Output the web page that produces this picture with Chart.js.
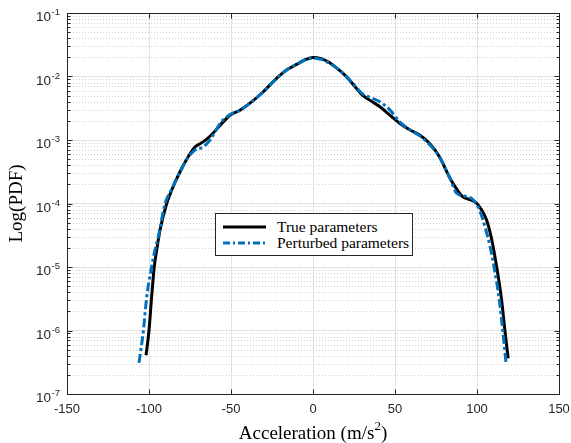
<!DOCTYPE html>
<html lang="en">
<head>
<meta charset="UTF-8" />
<title>Log(PDF) of acceleration</title>
<script src="https://cdn.jsdelivr.net/npm/chart.js"></script>
<style>
  html, body { margin: 0; padding: 0; background: #fff; }
  #wrap { position: relative; width: 571px; height: 443px; }
  #legend {
    position: absolute; left: 215px; top: 213px; width: 196px; height: 41px;
    border: 1px solid #262626; background: #fff;
    font-family: "Liberation Serif", "Times New Roman", serif; font-size: 15.5px; color: #000;
  }
  .row { position: absolute; left: 0; height: 16px; line-height: 16px; }
  .row svg { position: absolute; left: 7px; top: 6px; }
  .row span { position: absolute; left: 61px; top: 0; white-space: nowrap; }
</style>
</head>
<body>
<div id="wrap">
  <canvas id="pdfChart" width="571" height="443"></canvas>
  <div id="legend">
    <div class="row" style="top:5px">
      <svg width="44" height="4"><line x1="0" y1="2" x2="43" y2="2" stroke="#000" stroke-width="3" /></svg>
      <span>True parameters</span>
    </div>
    <div class="row" style="top:21px">
      <svg width="44" height="4"><line x1="0" y1="2" x2="43" y2="2" stroke="#0072BD" stroke-width="3" stroke-dasharray="7 3 2 3" /></svg>
      <span>Perturbed parameters</span>
    </div>
  </div>
</div>

<script>
  // values (PDF, log y axis)
  const trueX = [-101.8, -100, -98.4, -96.8, -95.3, -93.3, -89.2, -86.2, -81.1, -76, -72, -67, -62, -56, -50.6, -44.5, -38.4, -30.3, -25, -20, -15, -10, -5, 0, 5, 10, 15, 20, 25, 30, 35, 41, 47, 53, 59, 65, 71, 77, 83.5, 87, 91, 95.7, 99, 102, 106, 109, 112, 115, 117, 119];
  const trueY = [4.07e-7, 1e-6, 3.39e-6, 1e-5, 1.86e-5, 3.8e-5, 1e-4, 1.62e-4, 3.16e-4, 5.5e-4, 7.76e-4, 9.33e-4, 1.2e-3, 1.78e-3, 2.45e-3, 2.95e-3, 3.8e-3, 5.75e-3, 7.94e-3, 1.05e-2, 1.32e-2, 1.55e-2, 1.82e-2, 2.0e-2, 1.91e-2, 1.66e-2, 1.32e-2, 1.02e-2, 7.24e-3, 5.13e-3, 4.17e-3, 3.31e-3, 2.45e-3, 1.82e-3, 1.45e-3, 1.2e-3, 8.91e-4, 5.5e-4, 2.51e-4, 1.78e-4, 1.29e-4, 1.15e-4, 1.05e-4, 8.51e-5, 5.37e-5, 2.69e-5, 1e-5, 3.02e-6, 1e-6, 3.63e-7];

  const pertX = [-106.1, -103.4, -101.4, -98.4, -96.5, -94.3, -90.2, -86.5, -81.1, -76, -72, -67, -62.8, -56, -50.6, -44.5, -38.4, -30.3, -25, -20, -15, -10, -5, 0, 5, 10, 15, 20, 25, 30, 35, 41, 47, 53, 59, 65, 71, 77, 83.5, 87.6, 93.7, 97.6, 101.8, 104.9, 108, 110.4, 113.6, 115.7, 117.7];
  const pertY = [3.09e-7, 1e-6, 3.39e-6, 1e-5, 1.78e-5, 3.02e-5, 1e-4, 1.62e-4, 3.16e-4, 5.37e-4, 6.92e-4, 7.76e-4, 1e-3, 1.91e-3, 2.51e-3, 2.95e-3, 3.8e-3, 5.75e-3, 7.94e-3, 1.05e-2, 1.32e-2, 1.55e-2, 1.82e-2, 1.95e-2, 1.86e-2, 1.62e-2, 1.32e-2, 1.02e-2, 7.41e-3, 5.37e-3, 4.68e-3, 3.98e-3, 2.95e-3, 1.91e-3, 1.45e-3, 1.17e-3, 8.51e-4, 5.5e-4, 2.51e-4, 1.45e-4, 1.29e-4, 1.15e-4, 7.59e-5, 4.27e-5, 2.09e-5, 1e-5, 3.02e-6, 1e-6, 3.09e-7];

  const xTicks = [-150, -100, -50, 0, 50, 100, 150];
  const yExponents = [-7, -6, -5, -4, -3, -2, -1];

  const axisColor = "#262626";

  function toPoints(xs, ys) {
    return xs.map((x, i) => ({ x: x, y: ys[i] }));
  }

  // minor grid, box, inward ticks and tick labels, MATLAB style
  const axesPlugin = {
    id: "axesPlugin",
    beforeDatasetsDraw(chart) {
      const ctx = chart.ctx;
      const area = chart.chartArea;
      const ys = chart.scales.y;
      ctx.save();
      ctx.strokeStyle = "#cfcfcf";
      ctx.lineWidth = 1;
      ctx.setLineDash([1, 2]);
      yExponents.forEach((e) => {
        if (e === -1) return;
        for (let m = 2; m <= 9; m++) {
          const py = Math.round(ys.getPixelForValue(m * Math.pow(10, e))) + 0.5;
          ctx.beginPath();
          ctx.moveTo(area.left, py);
          ctx.lineTo(area.right, py);
          ctx.stroke();
        }
      });
      ctx.restore();
    },
    afterDraw(chart) {
      const ctx = chart.ctx;
      const area = chart.chartArea;
      const xs = chart.scales.x;
      const ys = chart.scales.y;
      const l = Math.round(area.left) + 0.5;
      const r = Math.round(area.right) + 0.5;
      const t = Math.round(area.top) + 0.5;
      const b = Math.round(area.bottom) + 0.5;
      ctx.save();
      ctx.strokeStyle = axisColor;
      ctx.lineWidth = 1;
      ctx.strokeRect(l, t, r - l, b - t);

      // ticks
      ctx.beginPath();
      xTicks.forEach((v) => {
        const px = Math.round(xs.getPixelForValue(v)) + 0.5;
        ctx.moveTo(px, b); ctx.lineTo(px, b - 5);
        ctx.moveTo(px, t); ctx.lineTo(px, t + 5);
      });
      yExponents.forEach((e) => {
        const py = Math.round(ys.getPixelForValue(Math.pow(10, e))) + 0.5;
        ctx.moveTo(l, py); ctx.lineTo(l + 5, py);
        ctx.moveTo(r, py); ctx.lineTo(r - 5, py);
        if (e === -1) return;
        for (let m = 2; m <= 9; m++) {
          const my = Math.round(ys.getPixelForValue(m * Math.pow(10, e))) + 0.5;
          ctx.moveTo(l, my); ctx.lineTo(l + 3, my);
          ctx.moveTo(r, my); ctx.lineTo(r - 3, my);
        }
      });
      ctx.stroke();

      // tick labels
      ctx.fillStyle = axisColor;
      ctx.font = "13px 'Liberation Sans', Arial, sans-serif";
      ctx.textAlign = "center";
      ctx.textBaseline = "middle";
      xTicks.forEach((v) => {
        ctx.fillText(String(v), xs.getPixelForValue(v), b + 15);
      });
      yExponents.forEach((e) => {
        const py = ys.getPixelForValue(Math.pow(10, e));
        ctx.font = "13.5px 'Liberation Sans', Arial, sans-serif";
        ctx.textAlign = "right";
        ctx.fillText("10", l - 16.5, py + 4.5);
        ctx.font = "9.5px 'Liberation Sans', Arial, sans-serif";
        ctx.textAlign = "left";
        ctx.fillText(String(e), l - 16, py - 0.5);
      });

      // axis titles
      ctx.fillStyle = "#000";
      const big = "19px 'Liberation Serif', 'Times New Roman', serif";
      const small = "13px 'Liberation Serif', 'Times New Roman', serif";
      ctx.font = big;
      const p1 = "Acceleration (m/s";
      const p3 = ")";
      const w1 = ctx.measureText(p1).width;
      const w3 = ctx.measureText(p3).width;
      ctx.font = small;
      const w2 = ctx.measureText("2").width;
      const cx = (area.left + area.right) / 2;
      let sx = cx - (w1 + w2 + w3) / 2;
      const baseY = b + 44;
      ctx.textAlign = "left";
      ctx.textBaseline = "alphabetic";
      ctx.font = big;
      ctx.fillText(p1, sx, baseY);
      ctx.font = small;
      ctx.fillText("2", sx + w1, baseY - 9);
      ctx.font = big;
      ctx.fillText(p3, sx + w1 + w2, baseY);

      ctx.translate(17, (area.top + area.bottom) / 2);
      ctx.rotate(-Math.PI / 2);
      ctx.textAlign = "center";
      ctx.textBaseline = "middle";
      ctx.fillText("Log(PDF)", 0, 0);
      ctx.restore();
    },
  };

  const chart = new Chart(document.getElementById("pdfChart").getContext("2d"), {
    type: "line",
    data: {
      datasets: [
        {
          label: "True parameters",
          data: toPoints(trueX, trueY),
          borderColor: "#000000",
          borderWidth: 3,
          pointRadius: 0,
          cubicInterpolationMode: "monotone",
          fill: false,
          order: 2,
        },
        {
          label: "Perturbed parameters",
          data: toPoints(pertX, pertY),
          borderColor: "#0072BD",
          borderWidth: 3,
          borderDash: [9, 3, 3, 3],
          pointRadius: 0,
          cubicInterpolationMode: "monotone",
          fill: false,
          order: 1,
        },
      ],
    },
    options: {
      responsive: false,
      animation: false,
      layout: { padding: { top: 13, right: 12, left: 0, bottom: 0 } },
      plugins: { legend: { display: false }, tooltip: { enabled: false } },
      scales: {
        x: {
          type: "linear",
          min: -150,
          max: 150,
          afterBuildTicks: (scale) => {
            scale.ticks = xTicks.map((v) => ({ value: v }));
          },
          afterFit: (scale) => { scale.height = 49; },
          ticks: { display: false },
          grid: { color: "#e2e2e2", lineWidth: 1, drawTicks: false },
          border: { display: false },
        },
        y: {
          type: "logarithmic",
          min: 1e-7,
          max: 1e-1,
          afterBuildTicks: (scale) => {
            scale.ticks = yExponents.map((e) => ({ value: Math.pow(10, e) }));
          },
          afterFit: (scale) => { scale.width = 67; },
          ticks: { display: false },
          grid: { color: "#e2e2e2", lineWidth: 1, drawTicks: false },
          border: { display: false },
        },
      },
    },
    plugins: [axesPlugin],
  });
</script>
</body>
</html>
